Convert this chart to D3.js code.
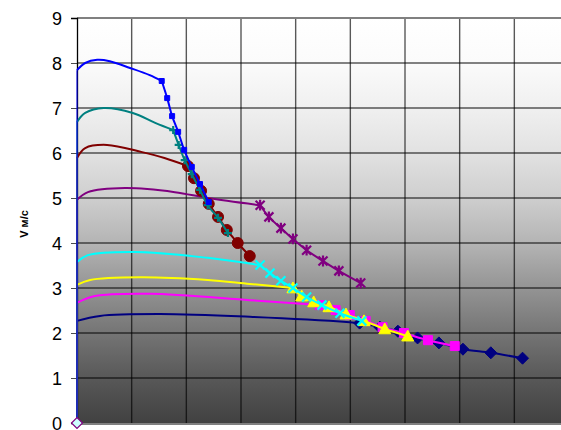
<!DOCTYPE html>
<html>
<head>
<meta charset="utf-8">
<script src="https://cdn.jsdelivr.net/npm/d3@7"></script>
<style>
  html, body { margin: 0; padding: 0; background: #ffffff; overflow: hidden; }
  svg { display: block; }
</style>
</head>
<body>
<div class="chart"></div>
<script>
// Speed curves: smooth part (no markers) and the marked part along the descent
const yTicks = [0, 1, 2, 3, 4, 5, 6, 7, 8, 9];
const xGrid = [1, 2, 3, 4, 5, 6, 7, 8];
const yLabel = "V  м/с";

const originPoint = [0, 0];

const navyCurveX = [0, 0.42, 1.52, 3.16, 4.99, 5.17];
const navyCurveV = [2.27, 2.38, 2.42, 2.36, 2.24, 2.22];
const navyMarkX = [5.17, 5.54, 5.87, 6.23, 6.62, 7.06, 7.57, 8.15];
const navyMarkV = [2.22, 2.13, 2.04, 1.89, 1.78, 1.64, 1.56, 1.44];

const magentaCurveX = [0, 0.33, 1.33, 3.16, 4.44];
const magentaCurveV = [2.67, 2.82, 2.87, 2.73, 2.62];
const magentaMarkX = [4.44, 4.73, 4.99, 5.28, 5.59, 5.98, 6.42, 6.91];
const magentaMarkV = [2.62, 2.51, 2.4, 2.27, 2.13, 2.0, 1.84, 1.71];

const yellowCurveX = [0, 0.24, 1.15, 2.39, 3.16, 3.95];
const yellowCurveV = [3.07, 3.18, 3.24, 3.18, 3.09, 3.0];
const yellowMarkX = [3.95, 4.11, 4.33, 4.61, 4.92, 5.25, 5.63, 6.05];
const yellowMarkV = [3.0, 2.82, 2.69, 2.58, 2.42, 2.27, 2.09, 1.93];

const cyanCurveX = [0, 0.2, 1.06, 2.39, 3.33];
const cyanCurveV = [3.58, 3.73, 3.8, 3.67, 3.51];
const cyanMarkX = [3.35, 3.53, 3.73, 3.95, 4.2, 4.48, 4.81, 5.21];
const cyanMarkV = [3.51, 3.33, 3.16, 3.0, 2.8, 2.62, 2.44, 2.27];

const purpleCurveX = [0, 0.2, 0.88, 1.79, 2.39, 3.35];
const purpleCurveV = [4.96, 5.13, 5.22, 5.13, 5.0, 4.84];
const purpleMarkX = [3.35, 3.51, 3.73, 3.95, 4.2, 4.5, 4.79, 5.19];
const purpleMarkV = [4.84, 4.58, 4.33, 4.09, 3.84, 3.6, 3.38, 3.11];

const redCurveX = [0, 0.15, 0.55, 1.19, 1.6, 2.03];
const redCurveV = [5.89, 6.11, 6.18, 6.02, 5.89, 5.71];
const redMarkX = [2.03, 2.14, 2.27, 2.41, 2.58, 2.74, 2.94, 3.16];
const redMarkV = [5.71, 5.44, 5.16, 4.87, 4.58, 4.29, 4.0, 3.71];

const tealCurveX = [0, 0.15, 0.49, 1.02, 1.43, 1.76];
const tealCurveV = [6.69, 6.89, 7.0, 6.89, 6.67, 6.51];
const tealMarkX = [1.76, 1.86, 1.97, 2.1, 2.25, 2.39, 2.58, 2.76];
const tealMarkV = [6.51, 6.18, 5.84, 5.53, 5.18, 4.84, 4.56, 4.22];

const blueCurveX = [0, 0.15, 0.37, 0.6, 0.97, 1.33, 1.55];
const blueCurveV = [7.84, 8.0, 8.07, 8.04, 7.89, 7.73, 7.6];
const blueMarkX = [1.55, 1.65, 1.74, 1.85, 1.96, 2.1, 2.25, 2.41];
const blueMarkV = [7.6, 7.22, 6.82, 6.47, 6.07, 5.69, 5.31, 4.91];

const zip = (xs, vs) => xs.map((x, i) => [x, vs[i]]);

// drawing order: bottom to top
const series = [
    { color: "#000080", marker: "diamond", size: 6, curve: zip(navyCurveX, navyCurveV), marks: zip(navyMarkX, navyMarkV) },
    { color: "#ff00ff", marker: "square", size: 4.5, curve: zip(magentaCurveX, magentaCurveV), marks: zip(magentaMarkX, magentaMarkV) },
    { color: "#ffff00", marker: "triangle", size: 6, curve: zip(yellowCurveX, yellowCurveV), marks: zip(yellowMarkX, yellowMarkV) },
    { color: "#00ffff", marker: "x", size: 4.5, curve: zip(cyanCurveX, cyanCurveV), marks: zip(cyanMarkX, cyanMarkV) },
    { color: "#800080", marker: "star", size: 4.5, curve: zip(purpleCurveX, purpleCurveV), marks: zip(purpleMarkX, purpleMarkV) },
    { color: "#800000", marker: "circle", size: 5.5, curve: zip(redCurveX, redCurveV), marks: zip(redMarkX, redMarkV) },
    { color: "#008080", marker: "plus", size: 4, curve: zip(tealCurveX, tealCurveV), marks: zip(tealMarkX, tealMarkV) },
    { color: "#0000ff", marker: "square", size: 2.5, curve: zip(blueCurveX, blueCurveV), marks: zip(blueMarkX, blueMarkV) }
];

const width = 561;
const height = 430;
const margin = { left: 77, top: 18 };
const plotW = 492;
const plotH = 405;

const svg = d3.select(".chart").append("svg")
    .attr("width", width)
    .attr("height", height);

const x = d3.scaleLinear().domain([0, 9]).range([margin.left, margin.left + plotW]);
const y = d3.scaleLinear().domain([0, 9]).range([margin.top + plotH, margin.top]);

// background gradient
const grad = svg.append("defs").append("linearGradient")
    .attr("id", "bg")
    .attr("x1", 0).attr("y1", 0).attr("x2", 0).attr("y2", 1);
const stops = [
    [0, "#ffffff"], [0.11, "#fbfbfb"], [0.22, "#f0f0f0"], [0.33, "#e2e2e2"],
    [0.44, "#cfcfcf"], [0.56, "#b3b3b3"], [0.67, "#939393"], [0.78, "#747474"],
    [0.89, "#585858"], [1, "#414141"]
];
grad.selectAll("stop").data(stops).join("stop")
    .attr("offset", d => d[0])
    .attr("stop-color", d => d[1]);

svg.append("rect")
    .attr("x", x(0)).attr("y", y(9))
    .attr("width", plotW).attr("height", plotH)
    .attr("fill", "url(#bg)");

// grid
const grid = svg.append("g").attr("stroke", "#000").attr("stroke-opacity", 0.65).attr("stroke-width", 1.4);
grid.selectAll(".h").data(yTicks.filter(d => d > 0 && d < 9)).join("line")
    .attr("x1", x(0)).attr("x2", x(9))
    .attr("y1", d => y(d)).attr("y2", d => y(d));
grid.selectAll(".v").data(xGrid).join("line")
    .attr("x1", d => x(d)).attr("x2", d => x(d))
    .attr("y1", y(0)).attr("y2", y(9));

// plot border top / bottom
svg.append("line").attr("x1", x(0)).attr("x2", x(9)).attr("y1", y(9)).attr("y2", y(9))
    .attr("stroke", "#808080").attr("stroke-width", 2);
svg.append("line").attr("x1", x(0)).attr("x2", x(9)).attr("y1", y(0) + 1).attr("y2", y(0) + 1)
    .attr("stroke", "#808080").attr("stroke-width", 2);

// y axis
const yAxis = svg.append("g")
    .attr("transform", `translate(${x(0)},0)`)
    .call(d3.axisLeft(y).tickValues(yTicks).tickSize(6).tickPadding(9).tickFormat(d3.format("d")));
yAxis.select(".domain").attr("stroke", "#000").attr("stroke-width", 1.3);
yAxis.selectAll(".tick line").attr("stroke", "#000").attr("stroke-opacity", 0.7);
yAxis.selectAll(".tick text")
    .attr("fill", "#000")
    .style("font", "18px Arial, 'Liberation Sans', sans-serif")
    .attr("dy", "0.36em");

svg.append("text")
    .attr("transform", "translate(28,224) rotate(-90)")
    .attr("text-anchor", "middle")
    .style("font", "bold 11px Arial, 'Liberation Sans', sans-serif")
    .attr("fill", "#000")
    .text(yLabel);

// lines
const smooth = d3.line().x(d => x(d[0])).y(d => y(d[1])).curve(d3.curveCatmullRom.alpha(0.5));
const straight = d3.line().x(d => x(d[0])).y(d => y(d[1]));

const markerPath = (type, s) => {
    switch (type) {
        case "diamond": return `M0,${-s}L${s},0L0,${s}L${-s},0Z`;
        case "square": return `M${-s},${-s}H${s}V${s}H${-s}Z`;
        case "triangle": return `M0,${-s}L${s},${s * 0.8}L${-s},${s * 0.8}Z`;
        case "circle": return d3.symbol(d3.symbolCircle, Math.PI * s * s)();
        case "x": return `M${-s},${-s}L${s},${s}M${-s},${s}L${s},${-s}`;
        case "plus": return `M${-s},0H${s}M0,${-s}V${s}`;
        case "star": return `M${-s},${-s}L${s},${s}M${-s},${s}L${s},${-s}M0,${-s * 1.2}V${s * 1.2}`;
    }
};
const strokeMarkers = new Set(["x", "plus", "star"]);

series.forEach(s => {
    const g = svg.append("g");
    g.append("path")
        .attr("d", straight([originPoint, s.curve[0]]))
        .attr("fill", "none").attr("stroke", s.color).attr("stroke-width", 1);
    g.append("path")
        .attr("d", smooth(s.curve))
        .attr("fill", "none").attr("stroke", s.color).attr("stroke-width", 2);
    g.append("path")
        .attr("d", smooth(s.marks))
        .attr("fill", "none").attr("stroke", s.color).attr("stroke-width", 2);
    const isStroke = strokeMarkers.has(s.marker);
    g.selectAll(".m").data(s.marks).join("path")
        .attr("transform", d => `translate(${x(d[0])},${y(d[1])})`)
        .attr("d", markerPath(s.marker, s.size))
        .attr("fill", isStroke ? "none" : s.color)
        .attr("stroke", s.color)
        .attr("stroke-width", isStroke ? 2.2 : 1);
});

// origin marker
svg.append("path")
    .attr("transform", `translate(${x(originPoint[0])},${y(originPoint[1])})`)
    .attr("d", markerPath("diamond", 5.5))
    .attr("fill", "#ccffff")
    .attr("stroke", "#800080")
    .attr("stroke-width", 1.2);
</script>
</body>
</html>
